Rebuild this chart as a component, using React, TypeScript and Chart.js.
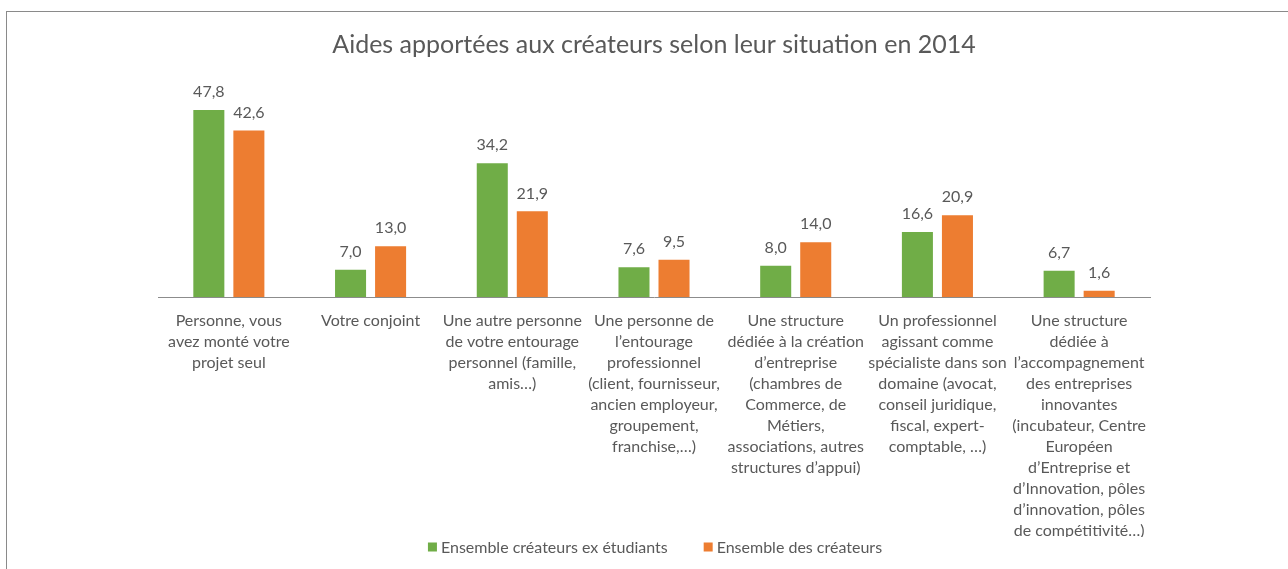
import React, { useEffect, useRef } from "react";
import { Chart, registerables } from "chart.js";

Chart.register(...registerables);

const title = "Aides apportées aux créateurs selon leur situation en 2014";

const categories: string[][] = [
  ["Personne, vous", "avez monté votre", "projet seul"],
  ["Votre conjoint"],
  ["Une autre personne", "de votre entourage", "personnel (famille,", "amis…)"],
  ["Une personne de", "l’entourage", "professionnel", "(client, fournisseur,", "ancien employeur,", "groupement,", "franchise,…)"],
  ["Une structure", "dédiée à la création", "d’entreprise", "(chambres de", "Commerce, de", "Métiers,", "associations, autres", "structures d’appui)"],
  ["Un professionnel", "agissant comme", "spécialiste dans son", "domaine (avocat,", "conseil juridique,", "fiscal, expert-", "comptable, …)"],
  ["Une structure", "dédiée à", "l’accompagnement", "des entreprises", "innovantes", "(incubateur, Centre", "Européen", "d’Entreprise et", "d’Innovation, pôles", "d’innovation, pôles", "de compétitivité…)"],
];

const seriesNames = ["Ensemble créateurs ex étudiants", "Ensemble des créateurs"];
const exEtudiants = [47.8, 7.0, 34.2, 7.6, 8.0, 16.6, 6.7];
const ensemble = [42.6, 13.0, 21.9, 9.5, 14.0, 20.9, 1.6];
const seriesColors = ["#70AD47", "#ED7D31"];

const FONT = "Lato, 'Open Sans', sans-serif";
const TEXT = "#595959";

const valueLabels = {
  id: "valueLabels",
  afterDatasetsDraw(chart: any) {
    const ctx = chart.ctx;
    ctx.save();
    ctx.font = `16px ${FONT}`;
    ctx.fillStyle = TEXT;
    ctx.textAlign = "center";
    ctx.textBaseline = "middle";
    chart.data.datasets.forEach((ds: any, di: number) => {
      const meta = chart.getDatasetMeta(di);
      meta.data.forEach((bar: any, i: number) => {
        const v = ds.data[i] as number;
        ctx.fillText(v.toFixed(1).replace(".", ","), bar.x, bar.y - 18);
      });
    });
    ctx.restore();
  },
};

const customLegend = {
  id: "customLegend",
  afterDraw(chart: any) {
    const ctx = chart.ctx;
    ctx.save();
    ctx.font = `16px ${FONT}`;
    ctx.textBaseline = "middle";
    ctx.textAlign = "left";
    const box = 9;
    const gapBoxText = 4;
    const gapItems = 36;
    const widths = chart.data.datasets.map((ds: any) => ctx.measureText(ds.label).width);
    const total = widths.reduce((a: number, w: number) => a + box + gapBoxText + w, 0) + gapItems * (widths.length - 1);
    let x = 655 - total / 2;
    const y = 547;
    chart.data.datasets.forEach((ds: any, i: number) => {
      ctx.fillStyle = ds.backgroundColor;
      ctx.fillRect(x, y - box / 2, box, box);
      x += box + gapBoxText;
      ctx.fillStyle = TEXT;
      ctx.fillText(ds.label, x, y + 1);
      x += widths[i] + gapItems;
    });
    ctx.restore();
  },
};

export default function App() {
  const ref = useRef<HTMLCanvasElement | null>(null);
  useEffect(() => {
    if (!ref.current) return;
    const chart = new Chart(ref.current, {
      type: "bar",
      data: {
        labels: categories,
        datasets: [
          {
            label: seriesNames[0],
            data: exEtudiants,
            backgroundColor: seriesColors[0],
            categoryPercentage: 0.565,
            barPercentage: 0.775,
          },
          {
            label: seriesNames[1],
            data: ensemble,
            backgroundColor: seriesColors[1],
            categoryPercentage: 0.565,
            barPercentage: 0.775,
          },
        ],
      },
      options: {
        responsive: false,
        animation: false,
        layout: { padding: { left: 158, right: 138, top: 0, bottom: 32 } },
        plugins: {
          title: {
            display: true,
            text: title,
            color: TEXT,
            font: { family: FONT, size: 25, weight: "normal", lineHeight: 1.2 },
            padding: { top: 30, bottom: 41.5 },
          },
          legend: { display: false },
          tooltip: { enabled: false },
        },
        scales: {
          x: {
            grid: { display: false },
            border: { display: true, color: "#8c8c8c", width: 1 },
            ticks: {
              color: TEXT,
              font: { family: FONT, size: 16, lineHeight: 1.3125 },
              padding: 5,
              maxRotation: 0,
              autoSkip: false,
            },
            afterFit(scale: any) {
              scale.height = 240;
            },
          },
          y: {
            display: false,
            min: 0,
            max: 50,
          },
        },
      },
      plugins: [valueLabels, customLegend],
    });
    return () => chart.destroy();
  }, []);

  return (
    <div style={{ position: "fixed", left: 0, top: 0, width: 1288, height: 569, background: "#fff", overflow: "hidden" }}>
      <div
        style={{
          position: "absolute",
          left: 6,
          top: 11,
          width: 1400,
          height: 700,
          border: "1px solid #8a8a8a",
          boxSizing: "border-box",
        }}
      />
      <canvas ref={ref} width={1288} height={569} style={{ position: "absolute", left: 0, top: 0 }} />
    </div>
  );
}
